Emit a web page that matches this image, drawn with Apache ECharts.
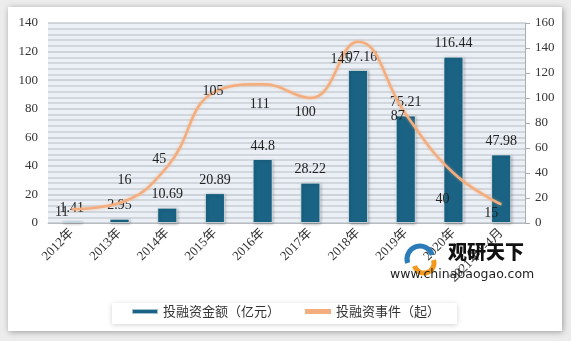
<!DOCTYPE html>
<html><head><meta charset="utf-8">
<script src="https://cdn.jsdelivr.net/npm/echarts@6/dist/echarts.min.js"></script>
<style>html,body{margin:0;padding:0;background:#ececec;}#c{width:571px;height:341px;}</style>
</head><body><div id="c"></div>
<script>
const categories = ['2012年','2013年','2014年','2015年','2016年','2017年','2018年','2019年','2020年','2021年1-4月'];
const amountValues = [1.41, 2.95, 10.69, 20.89, 44.8, 28.22, 107.16, 75.21, 116.44, 47.98];
const eventValues = [11, 16, 45, 105, 111, 100, 145, 87, 40, 15];
const leftTicks = {min: 0, max: 140, interval: 20};
const rightTicks = {min: 0, max: 160, interval: 20};
const seriesNames = ['投融资金额（亿元）', '投融资事件（起）'];

// label offsets for line labels (style only)
const lineLabelOffsets = [[-10,3],[5,-23],[-8,-7],[-2,0],[-3,20],[-5,14],[-17,18],[-8,2],[-11,26],[-10,9]];

const serif = "'Liberation Serif','DejaVu Serif','Noto Sans CJK SC',serif";
const chart = echarts.init(document.getElementById('c'), null, {renderer:'canvas'});
chart.setOption({
  animation: false,
  backgroundColor: 'transparent',
  graphic: [
    {type:'rect', left: 8, top: 7, shape:{width:554, height:324}, z:-10,
     style:{fill:'#fff', shadowBlur:6, shadowColor:'rgba(0,0,0,0.35)', shadowOffsetX:1, shadowOffsetY:1}},
    {type:'rect', left: 112, top: 303, shape:{width:345, height:21}, z:-5,
     style:{fill:'#fff', shadowBlur:5, shadowColor:'rgba(0,0,0,0.18)', shadowOffsetX:0, shadowOffsetY:1}},
    {type:'arc', shape:{cx:420, cy:259, r:13, startAngle:Math.PI*0.9, endAngle:Math.PI*1.9}, z:20,
     style:{stroke:'#2b7bb9', lineWidth:5, fill:null}},
    {type:'arc', shape:{cx:424, cy:263, r:10, startAngle:-Math.PI*0.1, endAngle:Math.PI*0.9}, z:20,
     style:{stroke:'#f39a1e', lineWidth:5, fill:null}},
    {type:'text', left: 448, top: 242, z:20,
     style:{text:'观研天下', fill:'#111', font:"900 19px 'Noto Sans CJK SC'"}},
    {type:'text', left: 390, top: 268, z:20,
     style:{text:'www.chinabaogao.com', fill:'#222', font:"12.5px 'DejaVu Sans','Noto Sans',sans-serif"}}
  ],
  grid: {left: 48, right: 46, top: 23, bottom: 118, show: true, backgroundColor: '#eaf0f6', borderWidth: 0},
  legend: {
    bottom: 18, left: 'center', itemGap: 25, itemWidth: 26, itemHeight: 5,
    textStyle: {fontFamily: "'Noto Sans CJK SC'", fontSize: 13, color: '#333'},
    data: [{name: seriesNames[0], icon: 'rect'}, {name: seriesNames[1], icon: 'rect'}]
  },
  xAxis: {
    type: 'category', data: categories,
    axisLine: {lineStyle: {color: '#b8bcc0'}},
    axisTick: {show: false},
    axisLabel: {rotate: 45, interval: 0, fontFamily: serif, fontSize: 13, color: '#333', margin: 8}
  },
  yAxis: [
    {type: 'value', min: leftTicks.min, max: leftTicks.max, interval: leftTicks.interval,
     axisLine: {show: false}, axisTick: {show: false},
     axisLabel: {fontFamily: serif, fontSize: 13, color: '#333', margin: 10},
     splitLine: {show: true, lineStyle: {color: '#c4c9cf', width: 1.5}},
     minorTick: {show: false, splitNumber: 5},
     minorSplitLine: {show: true, lineStyle: {color: '#c9ced4', width: 1.5}}},
    {type: 'value', min: rightTicks.min, max: rightTicks.max, interval: rightTicks.interval,
     axisLine: {show: true, lineStyle: {color: '#a8acb0'}},
     axisTick: {show: true, inside: false, length: 5, lineStyle: {color: '#a8acb0'}},
     axisLabel: {fontFamily: serif, fontSize: 13, color: '#333', margin: 10},
     splitLine: {show: false}}
  ],
  series: [
    {name: seriesNames[0], type: 'bar', yAxisIndex: 0, data: amountValues, barWidth: 20,
     itemStyle: {color: '#1a6384', borderColor: 'rgba(255,255,255,0.6)', borderWidth: 1,
                 shadowBlur: 3, shadowColor: 'rgba(0,0,0,0.3)', shadowOffsetX: 1, shadowOffsetY: 1},
     label: {show: true, position: 'top', distance: 6, fontFamily: serif, fontSize: 14, color: '#222'}},
    {name: seriesNames[1], type: 'line', yAxisIndex: 1, smooth: 0.45, showSymbol: true, symbol: 'circle', symbolSize: 1,
     data: eventValues,
     itemStyle: {color: '#f4ad7e'},
     lineStyle: {color: '#f4ad7e', width: 2.5, shadowBlur: 3, shadowColor: 'rgba(244,170,120,0.6)'},
     label: {show: true, position: 'inside', fontFamily: serif, fontSize: 14, color: '#222'},
     labelLayout: function (p) {
       const o = lineLabelOffsets[p.dataIndex] || [0, 0];
       return {dx: o[0], dy: o[1], hideOverlap: false};
     },
     z: 3}
  ]
});
</script></body></html>
